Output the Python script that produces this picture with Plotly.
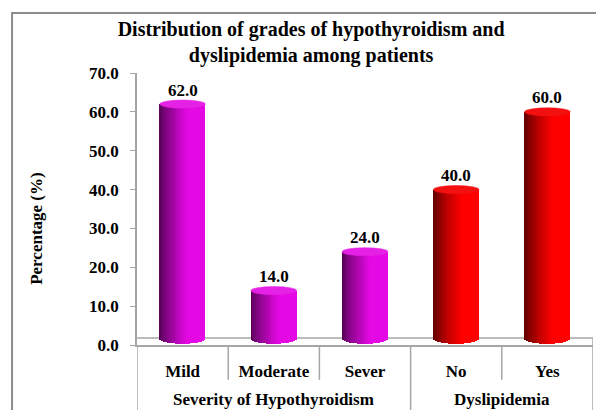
import plotly.graph_objects as go

# data
categories = ["Mild", "Moderate", "Sever", "No", "Yes"]
groups = ["Severity of Hypothyroidism"] * 3 + ["Dyslipidemia"] * 2
percent = [62.0, 14.0, 24.0, 40.0, 60.0]
y_ticks = [0, 10, 20, 30, 40, 50, 60, 70]

group_rgb = {
    "Severity of Hypothyroidism": (228, 8, 228),
    "Dyslipidemia": (255, 0, 0),
}
group_top = {
    "Severity of Hypothyroidism": "#e421e4",
    "Dyslipidemia": "#f21010",
}

FONT = "Liberation Serif, Times New Roman, serif"
AXIS_GREY = "#a6a6a6"
BAR_W = 0.5
N_SLICES = 24


def shade(rgb, t):
    """Cylinder shading: dark on the left, bright on the right."""
    if t < 0.62:
        f = 0.36 + 0.64 * (t / 0.62) ** 0.8
    else:
        f = 1.0
    return "rgb({},{},{})".format(*[int(min(255, c * f)) for c in rgb])


x_pos = list(range(len(categories)))
fig = go.Figure()

# cylinder bodies: thin overlaid slices give the horizontal gradient
for i in range(N_SLICES):
    t = (i + 0.5) / N_SLICES
    u = 2 * t - 1
    base = 1.6 - 1.3 * (1 - u * u) ** 0.5   # curved bottom edge
    fig.add_trace(go.Bar(
        x=x_pos, y=[v - base for v in percent], base=base,
        width=BAR_W / N_SLICES, offset=-BAR_W / 2 + i * BAR_W / N_SLICES,
        marker=dict(color=[shade(group_rgb[g], t) for g in groups], line_width=0),
        hoverinfo="skip", showlegend=False,
    ))

shapes = []
# cylinder tops
for xp, v, g in zip(x_pos, percent, groups):
    shapes.append(dict(
        type="circle", xref="x", yref="y",
        x0=xp - BAR_W / 2, x1=xp + BAR_W / 2, y0=v - 1.05, y1=v + 1.05,
        fillcolor=group_top[g], line=dict(color=group_top[g], width=0.5),
        layer="above",
    ))

# floor back edge
shapes.append(dict(type="line", xref="x", yref="y", x0=-0.5, x1=4.5, y0=1.8, y1=1.8,
                   line=dict(color=AXIS_GREY, width=1.5), layer="below"))
shapes.append(dict(type="line", xref="x", yref="y", x0=4.5, x1=4.5, y0=0, y1=1.8,
                   line=dict(color=AXIS_GREY, width=1.5), layer="below"))

# category dividers below the axis
for xb, long_line in [(-0.5, True), (0.5, False), (1.5, False), (2.5, True), (3.5, False), (4.5, True)]:
    shapes.append(dict(type="line", xref="x", yref="paper", x0=xb, x1=xb,
                       y0=0, y1=-0.26 if long_line else -0.128,
                       line=dict(color=AXIS_GREY, width=1.5)))

# outer chart border
shapes.append(dict(type="rect", xref="paper", yref="paper",
                   x0=-0.274, x1=1.02, y0=1.2206, y1=-0.3,
                   line=dict(color="#8c8c8c", width=2), fillcolor="rgba(0,0,0,0)"))

annotations = []
for xp, v in zip(x_pos, percent):
    annotations.append(dict(
        x=xp, y=v, xref="x", yref="y", text=f"{v:.1f}", showarrow=False,
        yshift=14, font=dict(family=FONT, size=17, color="black", weight="bold"),
    ))

# group labels
for name in dict.fromkeys(groups):
    idx = [i for i, g in enumerate(groups) if g == name]
    annotations.append(dict(
        x=sum(idx) / len(idx), y=-0.202, xref="x", yref="paper", text=name,
        showarrow=False, xanchor="center", yanchor="middle",
        font=dict(family=FONT, size=17, color="black", weight="bold"),
    ))

annotations.append(dict(
    x=-0.222, y=0.43, xref="paper", yref="paper", text="Percentage (%)",
    showarrow=False, textangle=-90, xanchor="center", yanchor="middle",
    font=dict(family=FONT, size=17, color="black", weight="bold"),
))

fig.update_layout(
    width=596, height=410,
    margin=dict(l=137, r=3, t=73, b=65),
    paper_bgcolor="white", plot_bgcolor="white",
    barmode="overlay", bargap=0,
    title=dict(
        text="Distribution of grades of hypothyroidism and<br>dyslipidemia among patients",
        x=0.522, xanchor="center", y=0.912, yanchor="top",
        font=dict(family=FONT, size=20, color="black", weight="bold"),
    ),
    xaxis=dict(
        range=[-0.5, 4.5], tickvals=x_pos, ticktext=categories,
        showline=True, linecolor=AXIS_GREY, linewidth=1.5,
        ticks="outside", ticklen=10, tickcolor="rgba(0,0,0,0)",
        showgrid=False, zeroline=False,
        tickfont=dict(family=FONT, size=17, color="black", weight="bold"),
    ),
    yaxis=dict(
        range=[0, 70], tickvals=y_ticks, tickformat=".1f",
        showline=True, linecolor=AXIS_GREY, linewidth=1.5,
        ticks="outside", ticklen=5, tickcolor=AXIS_GREY,
        ticklabelstandoff=8,
        showgrid=False, zeroline=False,
        tickfont=dict(family=FONT, size=17, color="black", weight="bold"),
    ),
    shapes=shapes, annotations=annotations,
)

fig.write_html("out.html", config={"displayModeBar": False},
               post_script="document.body.style.margin='0';")
